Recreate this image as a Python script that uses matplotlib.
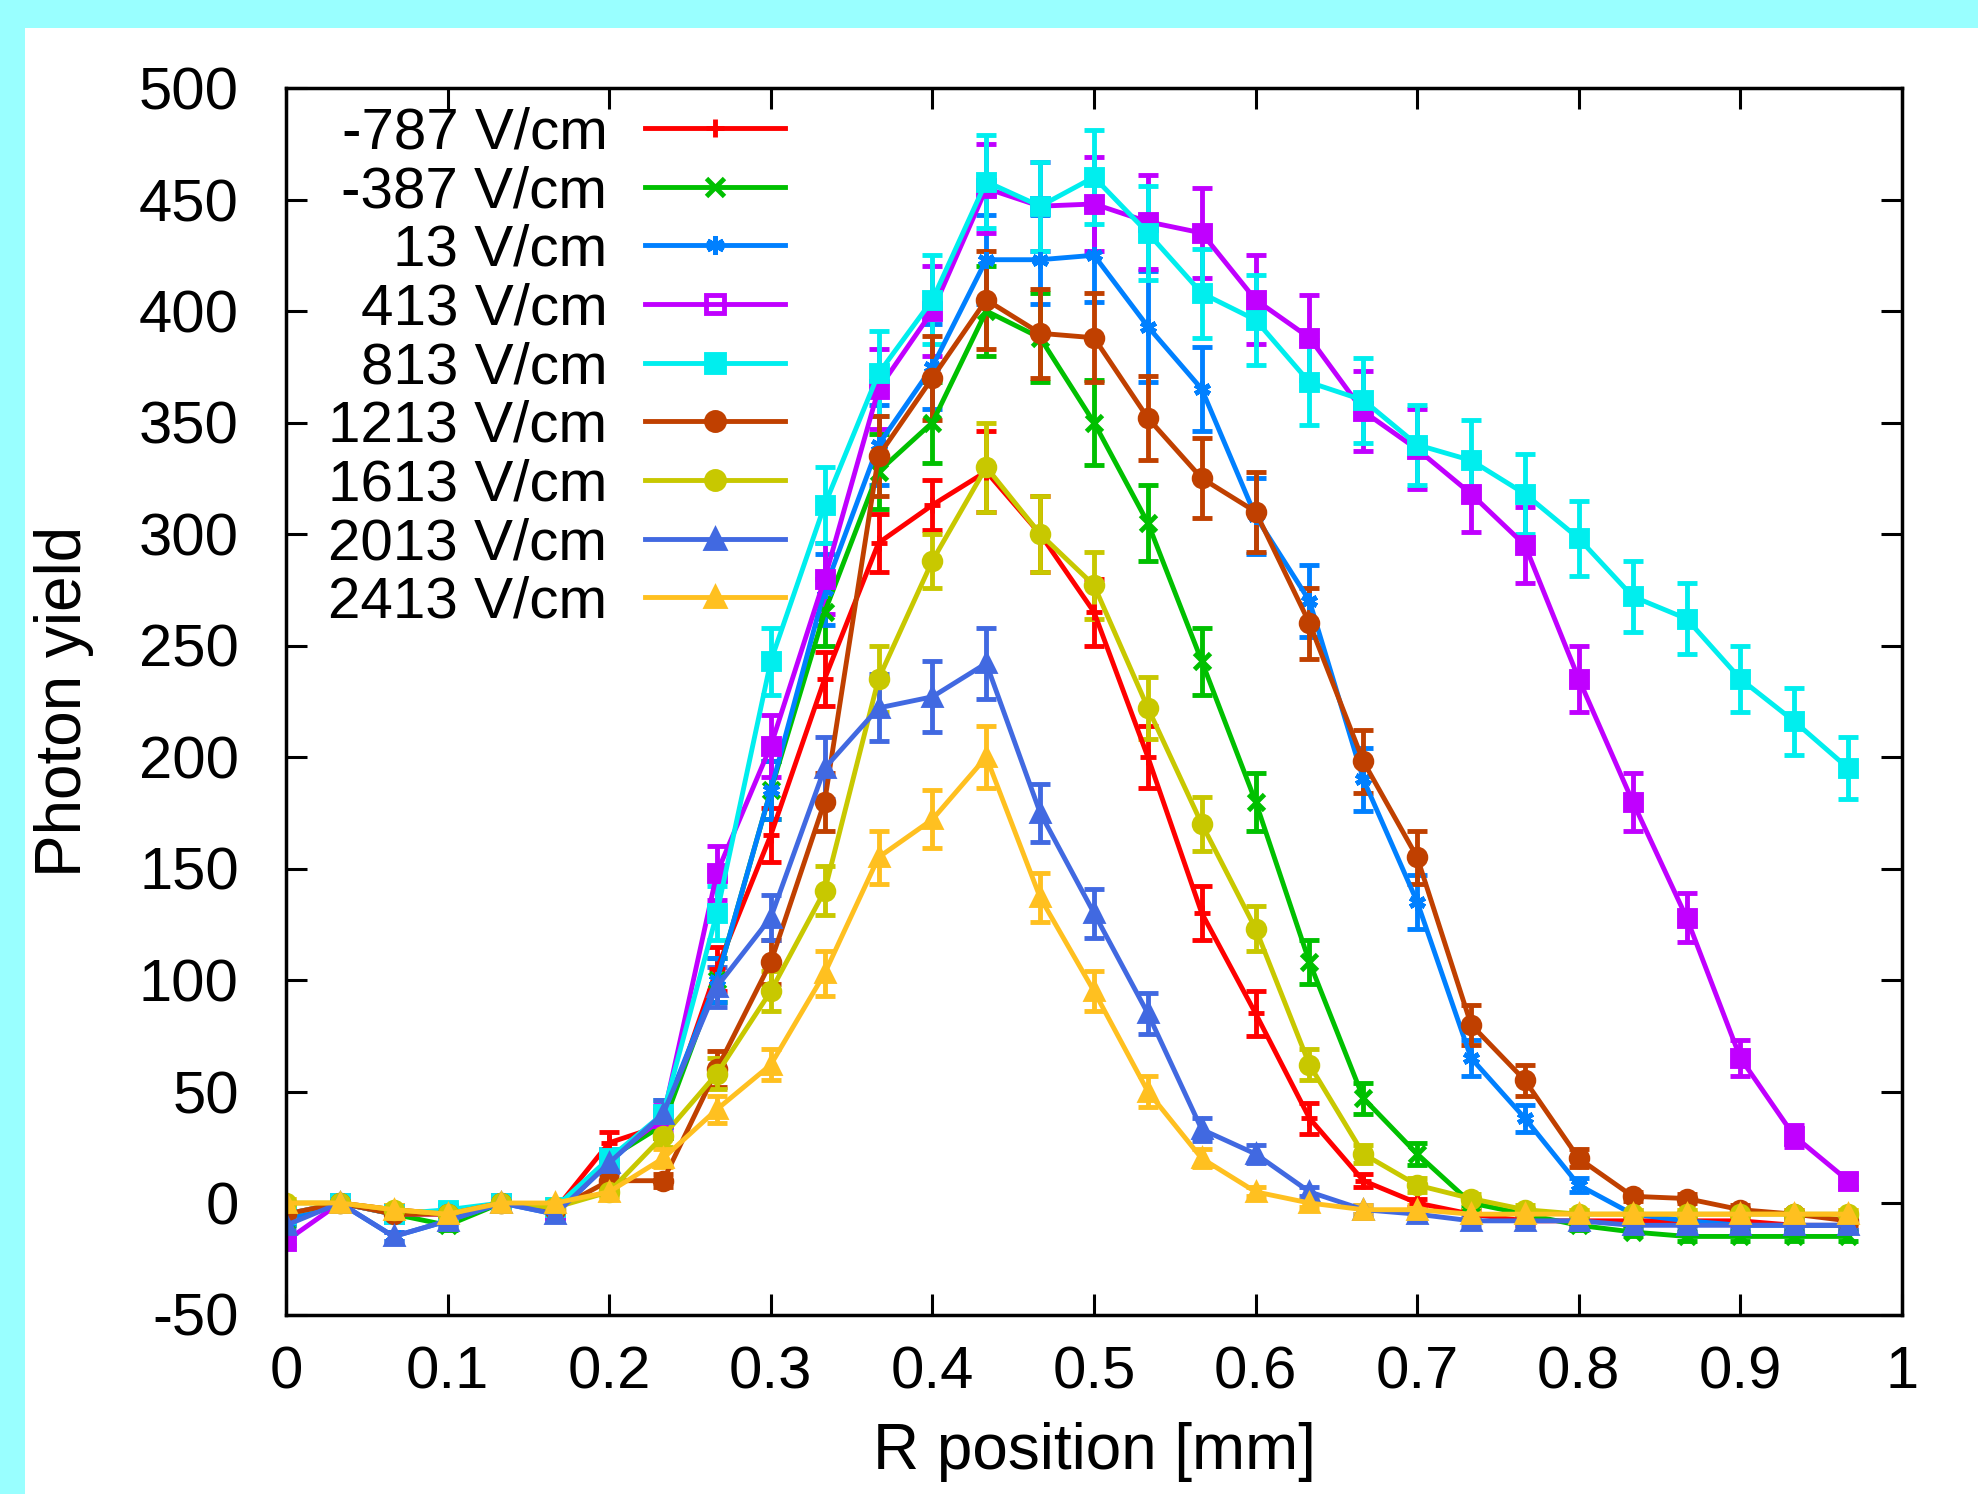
import matplotlib
matplotlib.use('Agg')
import matplotlib.pyplot as plt
from matplotlib.patches import Rectangle
from matplotlib.lines import Line2D

plt.rcParams['font.family'] = ['Liberation Sans Narrow', 'Liberation Sans', 'DejaVu Sans']
plt.rcParams['axes.unicode_minus'] = False

# R positions, 30 points with 1/30 mm step
r_pos = [i / 30.0 for i in range(30)]

labels = ['-787 V/cm', '-387 V/cm', '13 V/cm', '413 V/cm', '813 V/cm',
          '1213 V/cm', '1613 V/cm', '2013 V/cm', '2413 V/cm']

y_m787 = [-5, 0, -3, -5, 0, -3, 27, 35, 105, 165, 235, 296, 313, 328, 300,
          265, 200, 130, 85, 38, 10, 0, -5, -8, -8, -8, -8, -8, -10, -10]
e_m787 = [2, 1, 2, 2, 1, 2, 5, 6, 10, 12, 12, 13, 11, 18, 17,
          15, 14, 12, 10, 7, 3, 2, 2, 2, 2, 2, 2, 2, 2, 2]

y_m387 = [-8, 0, -5, -10, 0, -3, 20, 35, 100, 185, 265, 328, 350, 400, 388,
          350, 305, 243, 180, 108, 47, 22, 0, -5, -10, -13, -15, -15, -15, -15]
e_m387 = [2, 1, 2, 2, 1, 2, 4, 6, 10, 13, 15, 17, 18, 20, 20,
          19, 17, 15, 13, 10, 7, 5, 2, 2, 2, 2, 2, 2, 2, 2]

y_13 = [-8, 0, -15, -8, 0, -5, 18, 40, 100, 185, 275, 340, 375, 423, 423,
        425, 393, 365, 308, 270, 190, 135, 65, 38, 8, -5, -8, -10, -10, -10]
e_13 = [2, 1, 2, 2, 1, 2, 4, 6, 10, 13, 16, 18, 19, 20, 20,
        21, 25, 19, 17, 16, 14, 12, 8, 6, 3, 2, 2, 2, 2, 2]

y_413 = [-17, 0, -5, -5, 0, -3, 20, 38, 148, 205, 280, 365, 400, 455, 447,
         448, 440, 435, 405, 388, 355, 338, 318, 295, 235, 180, 128, 65, 30, 10]
e_413 = [2, 1, 2, 2, 1, 2, 4, 6, 12, 14, 16, 18, 20, 20, 20,
         21, 21, 20, 20, 19, 18, 18, 17, 17, 15, 13, 11, 8, 5, 3]

y_813 = [-5, 0, -5, -3, 0, -2, 20, 40, 130, 243, 313, 372, 405, 458, 447,
         460, 435, 408, 396, 368, 360, 340, 333, 318, 298, 272, 262, 235, 216, 195]
e_813 = [2, 1, 2, 2, 1, 2, 4, 6, 12, 15, 17, 19, 20, 21, 20,
         21, 21, 20, 20, 19, 19, 18, 18, 18, 17, 16, 16, 15, 15, 14]

y_1213 = [-5, 0, -5, -5, 0, -3, 10, 10, 60, 108, 180, 335, 370, 405, 390,
          388, 352, 325, 310, 260, 198, 155, 80, 55, 20, 3, 2, -3, -5, -8]
e_1213 = [2, 1, 2, 2, 1, 2, 3, 3, 8, 10, 13, 18, 19, 22, 20,
          20, 19, 18, 18, 16, 14, 12, 9, 7, 4, 2, 2, 2, 2, 2]

y_1613 = [0, 0, -3, -5, 0, -2, 5, 30, 58, 95, 140, 235, 288, 330, 300,
          277, 222, 170, 123, 62, 22, 8, 2, -3, -5, -5, -5, -5, -5, -5]
e_1613 = [2, 1, 2, 2, 1, 2, 2, 5, 7, 9, 11, 15, 12, 20, 17,
          15, 14, 12, 10, 7, 4, 3, 2, 2, 2, 2, 2, 2, 2, 2]

y_2013 = [-10, 0, -15, -8, 0, -5, 18, 40, 97, 128, 195, 222, 227, 242, 175,
          130, 85, 33, 22, 5, -3, -5, -8, -8, -8, -10, -10, -10, -10, -10]
e_2013 = [2, 1, 2, 2, 1, 2, 4, 6, 9, 10, 14, 15, 16, 16, 13,
          11, 9, 5, 4, 2, 2, 2, 2, 2, 2, 2, 2, 2, 2, 2]

y_2413 = [0, 0, -3, -5, 0, 0, 5, 20, 42, 62, 103, 155, 172, 200, 137,
          95, 50, 20, 5, 0, -3, -3, -5, -5, -5, -5, -5, -5, -5, -5]
e_2413 = [2, 1, 2, 2, 1, 2, 2, 4, 6, 7, 10, 12, 13, 14, 11,
          9, 7, 4, 2, 2, 2, 2, 2, 2, 2, 2, 2, 2, 2, 2]

series = [y_m787, y_m387, y_13, y_413, y_813, y_1213, y_1613, y_2013, y_2413]
errors = [e_m787, e_m387, e_13, e_413, e_813, e_1213, e_1613, e_2013, e_2413]

# gnuplot default line colours
colors = ['#ff0000', '#00c000', '#0080ff', '#c000ff', '#00eeee',
          '#c04000', '#c8c800', '#4169e1', '#ffc020']
asterisk = (6, 2, 0)
markers = ['+', 'x', asterisk, 's', 's', 'o', 'o', '^', '^']
leg_fills = ['full', 'full', 'full', 'none', 'full', 'full', 'full', 'full', 'full']

fig = plt.figure(figsize=(19.78, 14.94), dpi=100, facecolor='#99ffff')
# white page with cyan strip on the left and top
fig.patches.append(Rectangle((25 / 1978.0, 0), 1, 1 - 28 / 1494.0,
                             transform=fig.transFigure, facecolor='white',
                             edgecolor='none', zorder=-1))

ax = fig.add_axes([286 / 1978.0, 1 - 1314.5 / 1494.0,
                   1616 / 1978.0, 1226.5 / 1494.0])

handles = []
for k in range(len(series)):
    ax.errorbar(r_pos, series[k], yerr=errors[k], color=colors[k],
                marker=markers[k], markersize=12,
                markeredgewidth=3.5, linewidth=3.5, elinewidth=3.5,
                capsize=7, capthick=3.5)
    handles.append(Line2D([], [], color=colors[k], marker=markers[k],
                          fillstyle=leg_fills[k], markersize=13,
                          markeredgewidth=3.5, linewidth=3.5))

ax.set_xlim(0, 1)
ax.set_ylim(-50, 500)
ax.set_xticks([0, 0.1, 0.2, 0.3, 0.4, 0.5, 0.6, 0.7, 0.8, 0.9, 1])
ax.set_xticklabels(['0', '0.1', '0.2', '0.3', '0.4', '0.5', '0.6', '0.7',
                    '0.8', '0.9', '1'])
ax.set_yticks(range(-50, 501, 50))

ax.tick_params(direction='in', top=True, right=True, length=15, width=2.2,
               labelsize=43)
ax.tick_params(axis='y', pad=34)
ax.tick_params(axis='x', pad=22)
for sp in ax.spines.values():
    sp.set_linewidth(2.5)

ax.set_xlabel('R position [mm]', fontsize=46, labelpad=16)
ax.set_ylabel('Photon yield', fontsize=46, labelpad=32)

leg = ax.legend(handles, labels, loc='upper right',
                bbox_to_anchor=(0.309, 0.985),
                frameon=False, markerfirst=False, fontsize=42,
                handlelength=2.4, handletextpad=0.65, labelspacing=0.08,
                borderpad=0, borderaxespad=0)

fig.savefig('out.png', dpi=100, facecolor=fig.get_facecolor())
